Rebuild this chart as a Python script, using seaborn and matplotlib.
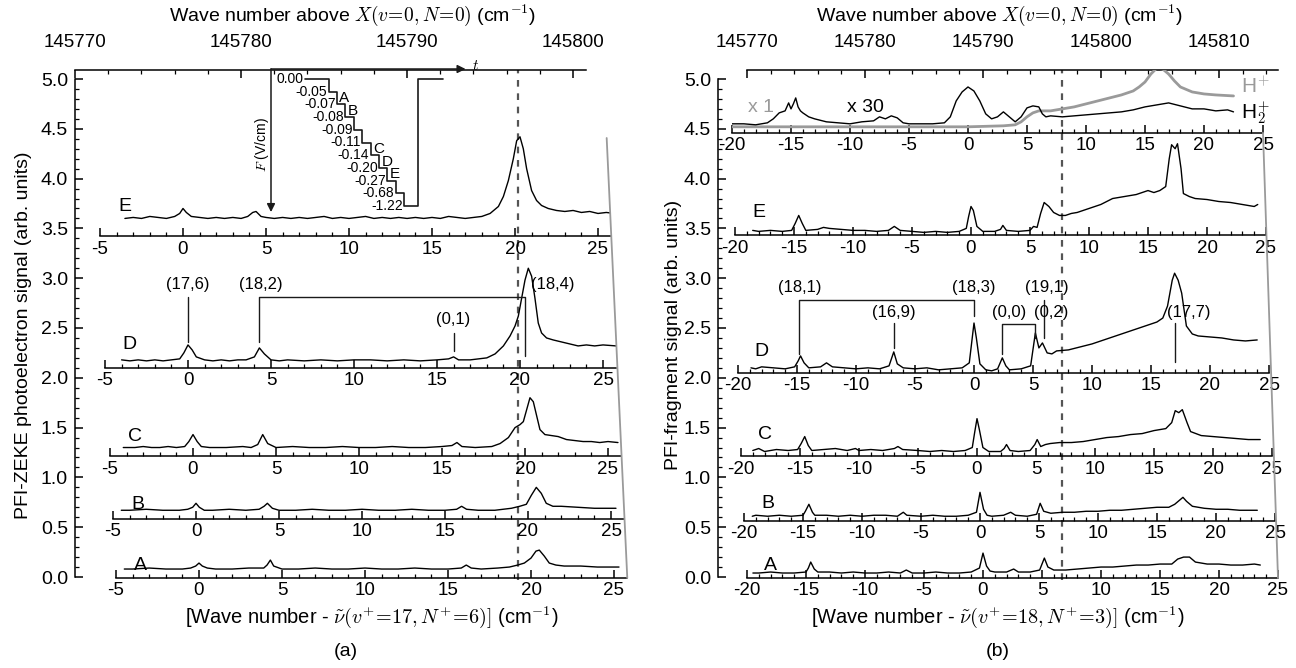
import matplotlib
matplotlib.use("Agg")
import numpy as np
import matplotlib.pyplot as plt
import seaborn as sns
from matplotlib.ticker import FixedLocator, MultipleLocator, FormatStrFormatter
from matplotlib.lines import Line2D

# ---------------- data ----------------
threshold = 145796.7          # dashed line, wave number above X(v=0,N=0)

# field-step sequence of the inset (V/cm)
field_steps = [0.00, -0.05, -0.07, -0.08, -0.09, -0.11, -0.14, -0.20, -0.27, -0.68, -1.22]
step_letters = {1: "A", 2: "B", 5: "C", 6: "D", 7: "E"}

# panel (a): PFI-ZEKE photoelectron spectra, x relative to (17,6)
a_E_x = [-3.5, -3, -2.5, -2, -1.5, -1, -0.5, -0.2, 0, 0.2, 0.5, 1, 1.5, 2, 2.5, 3, 3.5, 3.9, 4.2, 4.4, 4.7, 5, 5.5, 6,
         6.5, 7, 7.5, 8, 8.5, 9, 9.5, 10, 10.5, 11, 11.5, 12, 12.5, 13, 13.5, 14, 14.5, 15, 15.5, 16, 16.5, 17, 17.5,
         18, 18.5, 19, 19.3, 19.6, 19.9, 20.1, 20.3, 20.5, 20.7, 21, 21.3, 21.6, 22, 22.5, 23, 23.5, 24, 24.5, 25,
         25.5, 26]
a_E_y = [3.60, 3.61, 3.60, 3.62, 3.61, 3.60, 3.62, 3.65, 3.70, 3.66, 3.62, 3.61, 3.60, 3.61, 3.60, 3.61, 3.60, 3.62,
         3.66, 3.67, 3.62, 3.61, 3.60, 3.61, 3.60, 3.61, 3.60, 3.61, 3.62, 3.60, 3.61, 3.60, 3.61, 3.62, 3.60, 3.61,
         3.60, 3.61, 3.60, 3.61, 3.60, 3.61, 3.60, 3.62, 3.61, 3.60, 3.61, 3.62, 3.65, 3.72, 3.82, 3.98, 4.20, 4.38,
         4.42, 4.30, 4.10, 3.88, 3.78, 3.73, 3.70, 3.68, 3.67, 3.68, 3.66, 3.67, 3.65, 3.66, 3.65]

a_D_x = [-4, -3.5, -3, -2.5, -2, -1.5, -1, -0.5, -0.25, 0, 0.25, 0.5, 1, 1.5, 2, 2.5, 3, 3.5, 4, 4.3, 4.6, 5, 5.5, 6,
         7, 8, 9, 10, 11, 12, 13, 14, 15, 15.7, 16, 16.3, 17, 17.5, 18, 18.5, 19, 19.4, 19.7, 19.9, 20.1, 20.3, 20.5,
         20.7, 20.9, 21.1, 21.3, 21.6, 22, 22.5, 23, 23.5, 24, 24.5, 25, 25.8]
a_D_y = [2.18, 2.17, 2.18, 2.17, 2.18, 2.17, 2.18, 2.19, 2.25, 2.33, 2.28, 2.21, 2.18, 2.17, 2.18, 2.17, 2.18, 2.18,
         2.21, 2.30, 2.24, 2.18, 2.17, 2.18, 2.17, 2.18, 2.17, 2.18, 2.18, 2.17, 2.18, 2.17, 2.18, 2.19, 2.21, 2.18,
         2.18, 2.19, 2.20, 2.24, 2.32, 2.42, 2.52, 2.62, 2.80, 2.98, 3.10, 3.02, 2.80, 2.55, 2.45, 2.40, 2.38, 2.36,
         2.34, 2.32, 2.33, 2.32, 2.33, 2.32]

a_C_x = [-4.2, -3.5, -3, -2.5, -2, -1.5, -1, -0.5, -0.25, 0, 0.25, 0.5, 1, 2, 3, 3.5, 3.9, 4.2, 4.5, 5, 6, 7, 8, 9,
         10, 11, 12, 13, 14, 15, 15.6, 15.9, 16.2, 17, 18, 18.5, 19, 19.4, 19.7, 19.9, 20.1, 20.3, 20.5, 20.7, 20.9,
         21.2, 21.6, 22, 22.5, 23, 23.5, 24, 24.5, 25, 25.6]
a_C_y = [1.30, 1.30, 1.31, 1.30, 1.30, 1.31, 1.30, 1.31, 1.36, 1.43, 1.36, 1.31, 1.30, 1.30, 1.31, 1.30, 1.33, 1.43,
         1.34, 1.30, 1.31, 1.30, 1.30, 1.31, 1.30, 1.30, 1.31, 1.30, 1.30, 1.31, 1.32, 1.35, 1.31, 1.30, 1.31, 1.34,
         1.40, 1.50, 1.53, 1.56, 1.68, 1.80, 1.76, 1.62, 1.48, 1.43, 1.42, 1.41, 1.38, 1.37, 1.36, 1.36, 1.35, 1.36,
         1.35]

a_B_x = [-4.5, -4, -3, -2, -1, -0.5, -0.2, 0, 0.2, 0.5, 1, 2, 3, 3.8, 4.1, 4.3, 4.6, 5, 6, 7, 8, 9, 10, 11, 12, 13,
         14, 15, 15.7, 16.0, 16.3, 17, 18, 18.5, 19, 19.5, 19.9, 20.2, 20.5, 20.8, 21.1, 21.5, 22, 23, 24, 25.3]
a_B_y = [0.67, 0.67, 0.68, 0.67, 0.67, 0.68, 0.70, 0.74, 0.70, 0.67, 0.67, 0.68, 0.67, 0.68, 0.71, 0.74, 0.69, 0.67,
         0.67, 0.68, 0.67, 0.67, 0.68, 0.67, 0.67, 0.68, 0.67, 0.67, 0.68, 0.71, 0.68, 0.67, 0.67, 0.68, 0.69, 0.71,
         0.73, 0.82, 0.90, 0.84, 0.74, 0.71, 0.71, 0.70, 0.69, 0.69]

a_A_x = [-4.5, -4, -3, -2, -1, -0.5, -0.2, 0, 0.2, 0.5, 1, 2, 3, 3.9, 4.1, 4.3, 4.5, 5, 6, 7, 8, 9, 10, 11, 12, 13,
         14, 15, 15.8, 16.1, 16.4, 17, 18, 18.7, 19.2, 19.6, 20, 20.3, 20.5, 20.8, 21.1, 21.5, 22, 23, 24, 25.3]
a_A_y = [0.08, 0.08, 0.09, 0.08, 0.08, 0.09, 0.11, 0.14, 0.11, 0.09, 0.08, 0.08, 0.09, 0.09, 0.12, 0.17, 0.11, 0.08,
         0.08, 0.09, 0.08, 0.08, 0.09, 0.08, 0.08, 0.09, 0.08, 0.08, 0.09, 0.12, 0.09, 0.08, 0.09, 0.10, 0.12, 0.14,
         0.19, 0.26, 0.27, 0.21, 0.14, 0.12, 0.11, 0.11, 0.10, 0.10]

a_names = ["(17,6)", "(18,2)", "(0,1)", "(18,4)"]
a_pos = [0.0, 4.3, 16.0, 20.3]

# panel (b): PFI-fragment spectra, x relative to (18,3)
b_H2_x = [-20, -19, -18, -17, -16.5, -16, -15.5, -15.2, -15, -14.8, -14.6, -14.4, -14.2, -14, -13.5, -13, -12, -11,
          -10, -9, -8, -7.5, -7, -6.5, -6, -5.5, -5, -4, -3, -2, -1.5, -1, -0.5, 0, 0.5, 1, 1.5, 2, 2.5, 3, 3.5, 4,
          4.5, 5, 5.5, 6, 6.3, 6.6, 7, 8, 9, 10, 11, 12, 13, 14, 15, 16, 17, 18, 19, 20, 21, 22, 22.5]
b_H2_y = [4.55, 4.55, 4.54, 4.56, 4.60, 4.66, 4.68, 4.76, 4.70, 4.75, 4.81, 4.72, 4.68, 4.66, 4.62, 4.60, 4.57, 4.56,
          4.55, 4.57, 4.58, 4.62, 4.60, 4.63, 4.61, 4.56, 4.55, 4.55, 4.55, 4.56, 4.62, 4.78, 4.87, 4.92, 4.88, 4.78,
          4.65, 4.60, 4.62, 4.67, 4.62, 4.57, 4.62, 4.71, 4.73, 4.72, 4.65, 4.62, 4.63, 4.62, 4.63, 4.64, 4.65, 4.66,
          4.67, 4.69, 4.72, 4.74, 4.76, 4.73, 4.70, 4.70, 4.68, 4.69, 4.67]
b_Hp_x = [-20, -15, -10, -5, 0, 3, 4, 4.5, 5, 5.5, 6, 7, 8, 9, 10, 11, 12, 13, 14, 14.5, 15, 15.5, 16, 16.5, 17, 17.5,
          18, 19, 20, 21, 22.5]
b_Hp_y = [4.52, 4.52, 4.52, 4.52, 4.52, 4.53, 4.54, 4.57, 4.62, 4.66, 4.68, 4.68, 4.70, 4.72, 4.75, 4.78, 4.81, 4.84,
          4.88, 4.92, 4.97, 5.05, 5.11, 5.10, 5.05, 4.98, 4.92, 4.87, 4.85, 4.84, 4.83]

b_E_x = [-18.5, -18, -17, -16, -15.2, -14.9, -14.6, -14.3, -14, -13, -12.5, -12, -11, -10, -9, -8, -7, -6.5, -6, -5,
         -4, -3, -2, -1, -0.4, -0.2, 0, 0.2, 0.5, 1, 2, 2.5, 2.7, 3, 4, 5, 5.3, 5.6, 5.9, 6.2, 6.6, 7, 7.5, 8, 8.5, 9,
         9.5, 10, 11, 12, 13, 14, 15, 15.5, 16, 16.5, 16.8, 17, 17.3, 17.5, 17.8, 18, 18.5, 19, 20, 21, 22, 23, 24,
         24.3]
b_E_y = [3.48, 3.47, 3.48, 3.47, 3.48, 3.55, 3.63, 3.55, 3.48, 3.49, 3.51, 3.50, 3.49, 3.48, 3.48, 3.47, 3.48, 3.52,
         3.48, 3.47, 3.46, 3.47, 3.46, 3.47, 3.50, 3.62, 3.72, 3.68, 3.52, 3.47, 3.47, 3.49, 3.53, 3.48, 3.47, 3.48,
         3.52, 3.51, 3.65, 3.76, 3.72, 3.66, 3.63, 3.63, 3.65, 3.66, 3.68, 3.70, 3.74, 3.80, 3.82, 3.84, 3.88, 3.86,
         3.88, 3.92, 4.20, 4.34, 4.30, 4.35, 4.10, 3.85, 3.82, 3.80, 3.79, 3.77, 3.76, 3.74, 3.72, 3.74]

b_D_x = [-18.9, -18.5, -18, -17, -16, -15.2, -14.9, -14.7, -14.4, -14, -13, -12.5, -12, -11, -10, -9, -8, -7.2, -6.8,
         -6.5, -6, -5, -4, -3, -2, -1, -0.4, -0.2, 0, 0.2, 0.5, 1, 1.5, 2, 2.4, 2.7, 3, 4, 4.8, 5.2, 5.5, 5.8, 6.2,
         6.6, 7, 8, 9, 10, 11, 12, 13, 14, 15, 15.5, 16, 16.4, 16.8, 17, 17.3, 17.6, 18, 18.5, 19, 20, 21, 22, 23, 24]
b_D_y = [2.10, 2.09, 2.11, 2.10, 2.09, 2.11, 2.17, 2.22, 2.15, 2.10, 2.11, 2.15, 2.11, 2.10, 2.09, 2.10, 2.09, 2.12,
         2.26, 2.14, 2.10, 2.09, 2.10, 2.08, 2.09, 2.10, 2.15, 2.35, 2.55, 2.40, 2.14, 2.08, 2.07, 2.09, 2.20, 2.12,
         2.08, 2.09, 2.12, 2.45, 2.30, 2.35, 2.25, 2.24, 2.27, 2.28, 2.31, 2.34, 2.38, 2.42, 2.46, 2.50, 2.54, 2.56,
         2.60, 2.72, 2.98, 3.05, 2.98, 2.85, 2.52, 2.44, 2.42, 2.41, 2.40, 2.38, 2.37, 2.38]

b_C_x = [-19, -18.5, -18, -17, -16, -15.2, -14.9, -14.6, -14.3, -14, -13, -12, -11, -10.3, -10, -9, -8, -7, -6.7, -6.3,
         -5, -4, -3, -2, -1, -0.4, -0.2, 0, 0.2, 0.5, 1, 2, 2.3, 2.5, 2.8, 3.5, 4.5, 4.9, 5.1, 5.4, 5.8, 6.2, 7, 8, 9,
         10, 11, 12, 13, 14, 15, 16, 16.5, 16.8, 17.1, 17.4, 17.8, 18.1, 19, 20, 21, 22, 23, 24]
b_C_y = [1.27, 1.29, 1.26, 1.28, 1.27, 1.28, 1.34, 1.41, 1.32, 1.27, 1.28, 1.29, 1.27, 1.29, 1.27, 1.28, 1.27, 1.29,
         1.31, 1.28, 1.27, 1.26, 1.27, 1.26, 1.27, 1.30, 1.45, 1.59, 1.48, 1.30, 1.26, 1.26, 1.29, 1.33, 1.27, 1.26,
         1.27, 1.33, 1.38, 1.31, 1.33, 1.34, 1.35, 1.35, 1.36, 1.38, 1.40, 1.41, 1.43, 1.44, 1.47, 1.49, 1.55, 1.67,
         1.65, 1.68, 1.55, 1.46, 1.42, 1.41, 1.40, 1.39, 1.38, 1.38]

b_B_x = [-19.3, -19, -18, -17, -16, -15, -14.8, -14.5, -14.2, -14, -13, -12, -11, -10, -9, -8, -7, -6.5, -6.2, -5, -4,
         -3, -2, -1, -0.3, 0, 0.3, 0.6, 1, 2, 2.6, 3, 4, 4.8, 5.1, 5.4, 6, 7, 8, 9, 10, 11, 12, 13, 14, 15, 16, 16.5,
         16.9, 17.2, 17.5, 18, 19, 20, 21, 22, 23, 23.5]
b_B_y = [0.61, 0.62, 0.61, 0.62, 0.61, 0.62, 0.66, 0.73, 0.65, 0.62, 0.62, 0.61, 0.62, 0.61, 0.62, 0.62, 0.61, 0.65,
         0.62, 0.61, 0.62, 0.61, 0.61, 0.62, 0.65, 0.85, 0.68, 0.62, 0.61, 0.62, 0.65, 0.62, 0.61, 0.63, 0.74, 0.66,
         0.64, 0.65, 0.65, 0.66, 0.66, 0.67, 0.67, 0.68, 0.69, 0.70, 0.70, 0.73, 0.77, 0.80, 0.76, 0.71, 0.69, 0.68,
         0.68, 0.67, 0.67, 0.67]

b_A_x = [-19.5, -19, -18, -17, -16, -15, -14.8, -14.6, -14.3, -14, -13, -12, -11, -10, -9, -8, -7, -6.5, -6, -5, -4,
         -3, -2, -1, -0.3, 0, 0.3, 0.6, 1, 2, 2.6, 3, 4, 4.8, 5.2, 5.5, 6, 7, 8, 9, 10, 11, 12, 13, 14, 15, 16, 16.5,
         17, 17.5, 18, 19, 20, 21, 22, 23, 23.5]
b_A_y = [0.04, 0.04, 0.05, 0.04, 0.04, 0.05, 0.09, 0.15, 0.08, 0.05, 0.05, 0.04, 0.05, 0.04, 0.04, 0.05, 0.04, 0.07,
         0.04, 0.04, 0.05, 0.04, 0.04, 0.05, 0.09, 0.24, 0.11, 0.06, 0.05, 0.05, 0.08, 0.05, 0.05, 0.07, 0.19, 0.10,
         0.07, 0.07, 0.08, 0.09, 0.10, 0.10, 0.11, 0.12, 0.12, 0.13, 0.13, 0.18, 0.20, 0.20, 0.15, 0.13, 0.13, 0.12,
         0.12, 0.13, 0.12]

b_names = ["(18,1)", "(16,9)", "(18,3)", "(0,0)", "(0,2)", "(19,1)", "(17,7)"]
b_pos = [-14.8, -6.8, 0.0, 2.4, 5.2, 5.9, 17.0]

# ---------------- style ----------------
sns.set_theme(style="ticks", rc={"axes.edgecolor": "black", "text.color": "black", "axes.labelcolor": "black",
                                 "xtick.color": "black", "ytick.color": "black", "axes.linewidth": 1.1})
plt.rcParams['font.family'] = ['Liberation Sans', 'DejaVu Sans']
plt.rcParams['mathtext.fontset'] = 'cm'
plt.rcParams['axes.unicode_minus'] = False

W, H = 1296, 668
Y0, K = 577, 99.6          # pixel row of signal 0 and pixels per signal unit
TOP, BOT = 70, 600
YLIM = ((Y0 - BOT) / K, (Y0 - TOP) / K)
GRAY = "#9a9a9a"


def box(x0, x1, top=TOP, bot=BOT):
    return [x0 / W, 1 - bot / H, (x1 - x0) / W, (bot - top) / H]


fig = plt.figure(figsize=(W / 100, H / 100), dpi=100)


def main_panel(x0, x1, top0_px, scale, top_ticks, top_end, ylabel, ypad):
    ax = fig.add_axes(box(x0, x1))
    ax.set_ylim(*YLIM)
    ax.set_xlim(top_ticks[0] - (top0_px - x0) / scale, top_ticks[0] + (x1 - top0_px) / scale)
    ax.patch.set_alpha(0)
    ax.spines['right'].set_visible(False)
    ax.spines['bottom'].set_visible(False)
    ax.spines['left'].set_bounds(0, 5)
    ax.spines['top'].set_bounds(top_ticks[0], top_end)
    ax.xaxis.tick_top()
    ax.xaxis.set_label_position('top')
    ax.set_xticks(top_ticks)
    ax.xaxis.set_minor_locator(FixedLocator(np.arange(top_ticks[0], top_end + 0.01, 2)))
    ax.set_yticks(np.arange(0, 5.01, 0.5))
    ax.yaxis.set_minor_locator(FixedLocator(np.arange(0, 5.001, 0.1)))
    ax.yaxis.set_major_formatter(FormatStrFormatter('%.1f'))
    ax.tick_params(which='major', direction='in', length=6, width=1.1)
    ax.tick_params(which='minor', direction='in', length=3, width=0.9)
    ax.tick_params(axis='x', labelsize=13.5, pad=14)
    ax.tick_params(axis='y', labelsize=14, pad=5)
    ax.set_xlabel(r"Wave number above $X(v\!=\!0,N\!=\!0)$ (cm$^{-1}$)", fontsize=14, labelpad=9)
    ax.set_ylabel(ylabel, fontsize=14, labelpad=ypad)
    ax.axvline(threshold, ymin=(-0.03 - YLIM[0]) / (YLIM[1] - YLIM[0]), ymax=1,
               color="#555555", ls=(0, (3, 3)), lw=1.6, zorder=0)
    return ax


def trace_axes(zero_px, scale, lo, hi, axis_y):
    ax = fig.add_axes(box(zero_px + lo * scale, zero_px + hi * scale))
    ax.set_xlim(lo, hi)
    ax.set_ylim(*YLIM)
    ax.patch.set_alpha(0)
    for s in ['top', 'right', 'left']:
        ax.spines[s].set_visible(False)
    ax.spines['bottom'].set_position(('data', axis_y))
    ax.set_yticks([])
    ax.xaxis.set_major_locator(MultipleLocator(5))
    ax.xaxis.set_minor_locator(MultipleLocator(1))
    ax.tick_params(axis='x', which='major', direction='in', length=6, width=1.1, labelsize=13.5, pad=3)
    ax.tick_params(axis='x', which='minor', direction='in', length=3, width=0.9)
    ax.set_xlabel("")
    ax.set_ylabel("")
    return ax


def trace(ax, x, y, color="black", lw=1.0):
    sns.lineplot(x=x, y=y, ax=ax, color=color, linewidth=lw, estimator=None, sort=False)
    ax.set_xlabel("")
    ax.set_ylabel("")


# ---------------- panel (a) ----------------
SA = 16.6
main_panel(75, 630, 75, SA, [145770, 145780, 145790, 145800], 145800.8,
           "PFI-ZEKE photoelectron signal (arb. units)", 6)

a_traces = [("E", a_E_x, a_E_y, 183, 3.42, 3.72),
            ("D", a_D_x, a_D_y, 188, 2.10, 2.33),
            ("C", a_C_x, a_C_y, 193, 1.21, 1.41),
            ("B", a_B_x, a_B_y, 196, 0.58, 0.73),
            ("A", a_A_x, a_A_y, 199, -0.01, 0.12)]
a_axes = {}
for name, x, y, zpx, ay, ly in a_traces:
    ax = trace_axes(zpx, SA, -5, 25.8, ay)
    trace(ax, x, y)
    ax.text(-3.5, ly, name, fontsize=14, ha='center', va='center')
    a_axes[name] = ax

axD = a_axes["D"]
lab_y, brk_y = 2.94, 2.81
axD.plot([a_pos[0], a_pos[0]], [2.36, brk_y], color='k', lw=1)
axD.plot([a_pos[1], a_pos[1], a_pos[3], a_pos[3]], [2.36, brk_y, brk_y, 2.22], color='k', lw=1)
axD.plot([a_pos[2], a_pos[2]], [2.27, 2.45], color='k', lw=1)
axD.text(a_pos[0], lab_y, a_names[0], fontsize=12, ha='center', va='center')
axD.text(a_pos[1] + 0.1, lab_y, a_names[1], fontsize=12, ha='center', va='center')
axD.text(a_pos[2], 2.59, a_names[2], fontsize=12, ha='center', va='center')
axD.text(a_pos[3] + 1.7, lab_y, a_names[3], fontsize=12, ha='center', va='center')

# gray guide at the right end of the stacked axes
xe = 183 + 25.8 * SA
xa = 199 + 25.8 * SA
ye, ya = Y0 - 3.42 * K, Y0 + 0.01 * K
top_y = 138
xt = xe - (xa - xe) * (ye - top_y) / (ya - ye)
fig.add_artist(Line2D([xt / W, xa / W], [1 - top_y / H, 1 - ya / H], color=GRAY, lw=1.3))

# inset: field-step sequence
ins = fig.add_axes(box(271, 478, 69, 215))
U, V = 8.4, 12.7
ins.set_xlim((271 - 305) / U, (478 - 305) / U)
ins.set_ylim((215 - 79) / V, (69 - 79) / V)
ins.axis('off')
widths = [2.8] + [1.0] * (len(field_steps) - 2) + [1.65]
edges = np.concatenate([[0], np.cumsum(widths)])
sx = list(edges) + [edges[-1] + 2.95]
sy = list(range(len(field_steps))) + [0, 0]
ins.step(sx, sy, where='post', color='k', lw=1.2)
for i, v in enumerate(field_steps):
    ins.text(edges[i] - 0.15, i, f"{v:.2f}", fontsize=10, ha='right', va='center')
for i, letter in step_letters.items():
    ins.text(edges[i + 1] + 0.3, i + 0.5, letter, fontsize=11, ha='left', va='center')
ins.annotate("", xy=(0.94, 1.0), xytext=(0, 1.0), xycoords='axes fraction',
             arrowprops=dict(arrowstyle='-|>', color='k', lw=1.1, shrinkA=0, shrinkB=0, mutation_scale=12))
ins.annotate("", xy=(0, 0.02), xytext=(0, 1.0), xycoords='axes fraction',
             arrowprops=dict(arrowstyle='-|>', color='k', lw=1.1, shrinkA=0, shrinkB=0, mutation_scale=12))
ins.text(0.99, 1.02, r"$t$", transform=ins.transAxes, fontsize=11, ha='center', va='center')
ins.text(-0.045, 0.48, r"$F$ (V/cm)", transform=ins.transAxes, fontsize=10, ha='center', va='center',
         rotation=90)

# ---------------- panel (b) ----------------
SB = 11.8
main_panel(718, 1280, 747, SB, [145770, 145780, 145790, 145800, 145810], 145815,
           "PFI-fragment signal (arb. units)", 1)

b_traces = [("E", b_E_x, b_E_y, 971, 3.43, 3.66),
            ("D", b_D_x, b_D_y, 974, 2.05, 2.26),
            ("C", b_C_x, b_C_y, 977, 1.21, 1.43),
            ("B", b_B_x, b_B_y, 980, 0.56, 0.74),
            ("A", b_A_x, b_A_y, 983, -0.01, 0.12)]
axT = trace_axes(968, SB, -20, 25, 4.46)
trace(axT, b_Hp_x, b_Hp_y, color=GRAY, lw=2.0)
trace(axT, b_H2_x, b_H2_y)
axT.text(-17.5, 4.71, "x 1", fontsize=14, color=GRAY, ha='center', va='center')
axT.text(-8.7, 4.71, "x 30", fontsize=14, ha='center', va='center')
axT.text(23.1, 4.93, r"H$^\mathsf{+}$", fontsize=15, color=GRAY, ha='left', va='center')
axT.text(23.1, 4.66, r"H$_\mathsf{2}^\mathsf{+}$", fontsize=15, ha='left', va='center')

b_axes = {}
for name, x, y, zpx, ay, ly in b_traces:
    ax = trace_axes(zpx, SB, -20, 25, ay)
    trace(ax, x, y)
    ax.text(-18.0, ly, name, fontsize=14, ha='center', va='center')
    b_axes[name] = ax

bD = b_axes["D"]
hi_y, lo_y = 2.91, 2.66
bD.plot([b_pos[0], b_pos[0], b_pos[2], b_pos[2]], [2.24, 2.78, 2.78, 2.62], color='k', lw=1)
bD.plot([b_pos[1], b_pos[1]], [2.30, 2.55], color='k', lw=1)
bD.plot([b_pos[3], b_pos[3], b_pos[4], b_pos[4]], [2.24, 2.54, 2.54, 2.40], color='k', lw=1)
bD.plot([b_pos[5], b_pos[5]], [2.40, 2.78], color='k', lw=1)
bD.plot([b_pos[6], b_pos[6]], [2.16, 2.55], color='k', lw=1)
bD.text(b_pos[0], hi_y, b_names[0], fontsize=12, ha='center', va='center')
bD.text(b_pos[1], lo_y, b_names[1], fontsize=12, ha='center', va='center')
bD.text(b_pos[2], hi_y, b_names[2], fontsize=12, ha='center', va='center')
bD.text(b_pos[3] + 0.6, lo_y, b_names[3], fontsize=12, ha='center', va='center')
bD.text(b_pos[4] + 1.3, lo_y, b_names[4], fontsize=12, ha='center', va='center')
bD.text(b_pos[5] + 0.3, hi_y, b_names[5], fontsize=12, ha='center', va='center')
bD.text(b_pos[6] + 1.2, lo_y, b_names[6], fontsize=12, ha='center', va='center')

xe = 968 + 25 * SB
xa = 983 + 25 * SB
ye, ya = Y0 - 4.46 * K, Y0 + 0.01 * K
fig.add_artist(Line2D([xe / W, xa / W], [1 - ye / H, 1 - ya / H], color=GRAY, lw=1.3))

# bottom labels
fig.text(372 / W, 1 - 617 / H, r"[Wave number - $\tilde{\nu}(v^{+}\!=\!17, N^{+}\!=\!6)]$ (cm$^{-1}$)",
         fontsize=14.5, ha='center', va='center')
fig.text(998 / W, 1 - 617 / H, r"[Wave number - $\tilde{\nu}(v^{+}\!=\!18, N^{+}\!=\!3)]$ (cm$^{-1}$)",
         fontsize=14.5, ha='center', va='center')
fig.text(346 / W, 1 - 652 / H, "(a)", fontsize=14, ha='center', va='center')
fig.text(998 / W, 1 - 652 / H, "(b)", fontsize=14, ha='center', va='center')

fig.savefig("out.png", dpi=100)
